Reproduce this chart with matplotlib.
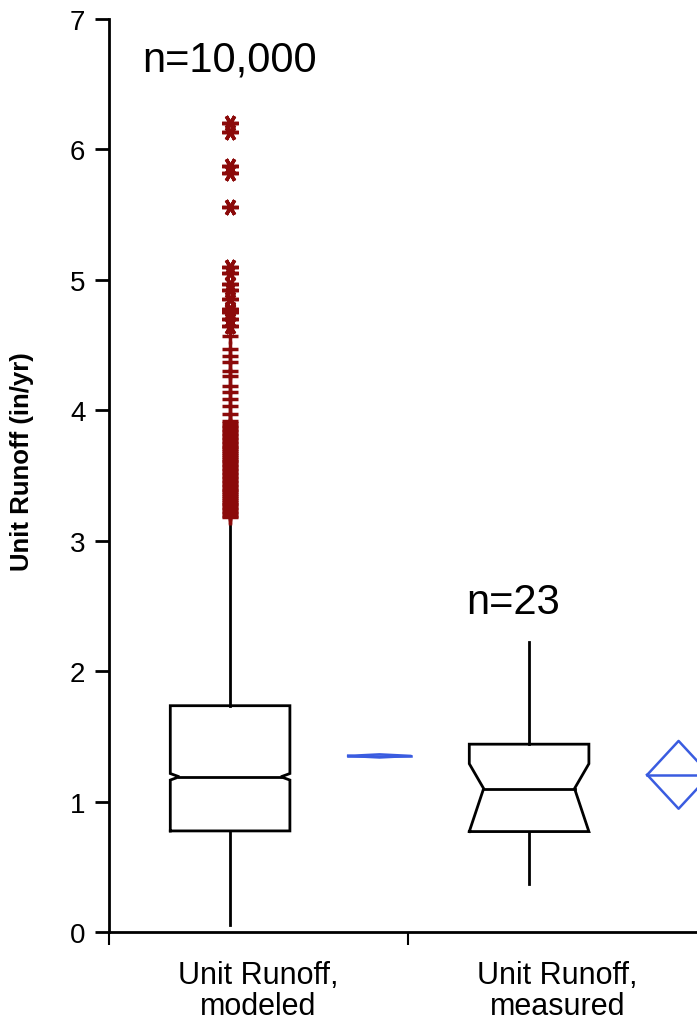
import matplotlib.pyplot as plt

plt.rcParams['font.family'] = ['Liberation Sans', 'DejaVu Sans']

# data
categories = ['Unit Runoff,\nmodeled', 'Unit Runoff,\nmeasured']
n_labels = ['n=10,000', 'n=23']
q1 = [0.775, 0.77]
q3 = [1.735, 1.44]
medians = [1.19, 1.10]
notch_lo = [1.165, 0.77]
notch_hi = [1.215, 1.29]
whisk_lo = [0.05, 0.37]
whisk_hi = [3.17, 2.22]
means = [1.35, 1.205]
mean_ci_lo = [1.338, 0.945]
mean_ci_hi = [1.362, 1.465]

# outliers of the modeled series ('+' = outside, '*' = far outside)
plus_vals = [3.18, 3.19, 3.21, 3.22, 3.24, 3.25, 3.27, 3.28, 3.30, 3.31,
             3.33, 3.34, 3.36, 3.37, 3.39, 3.40, 3.42, 3.43, 3.45, 3.46,
             3.48, 3.49, 3.51, 3.52, 3.54, 3.55, 3.57, 3.58, 3.60, 3.61,
             3.63, 3.64, 3.66, 3.67, 3.69, 3.70, 3.72, 3.73, 3.75, 3.76,
             3.78, 3.79, 3.81, 3.82, 3.84, 3.85, 3.87, 3.88, 3.90, 3.92,
             3.97, 4.03, 4.09, 4.14, 4.19, 4.26, 4.30, 4.37, 4.42, 4.47, 4.57]
star_vals = [4.65, 4.70, 4.75, 4.78, 4.85, 4.92, 4.97, 5.05, 5.10,
             5.56, 5.82, 5.87, 6.13, 6.20]

box_off = -0.095
box_w = 0.4
mean_off = 0.405
mean_w = 0.21
indent = [0.03, 0.048]
dark_red = '#8b0a0a'
blue = '#3a5ce0'

fig = plt.figure(figsize=(6.97, 10.2), dpi=100)
ax = fig.add_axes([109 / 697, 87 / 1020, 598 / 697, 913 / 1020])

for i in range(2):
    c = i + box_off
    L, R = c - box_w / 2, c + box_w / 2
    d = indent[i]
    xs = [L, L, L + d, L, L, R, R, R - d, R, R, L]
    ys = [q1[i], notch_lo[i], medians[i], notch_hi[i], q3[i], q3[i],
          notch_hi[i], medians[i], notch_lo[i], q1[i], q1[i]]
    ax.plot(xs, ys, color='black', lw=2, solid_joinstyle='miter')
    ax.plot([L + d, R - d], [medians[i], medians[i]], color='black', lw=2)
    ax.plot([c, c], [q3[i], whisk_hi[i]], color='black', lw=2)
    ax.plot([c, c], [q1[i], whisk_lo[i]], color='black', lw=2)

    # mean diamond
    m = i + mean_off
    ax.plot([m - mean_w / 2, m, m + mean_w / 2, m, m - mean_w / 2],
            [means[i], mean_ci_hi[i], means[i], mean_ci_lo[i], means[i]],
            color=blue, lw=1.8)
    ax.plot([m - mean_w / 2, m + mean_w / 2], [means[i], means[i]],
            color=blue, lw=1.8)

ax.plot([box_off] * len(plus_vals), plus_vals, linestyle='none', marker='+',
        markersize=12, mew=2.5, color=dark_red)
ax.plot([box_off] * len(star_vals), star_vals, linestyle='none',
        marker=(6, 2, 90), markersize=12, mew=2.5, color=dark_red)

ax.text(-0.39, 6.69, n_labels[0], fontsize=30, ha='left', va='center')
ax.text(0.695, 2.53, n_labels[1], fontsize=30, ha='left', va='center')

ax.set_xlim(-0.5, 1.5)
ax.set_ylim(0, 7)
ax.spines['top'].set_visible(False)
ax.spines['right'].set_visible(False)
ax.spines['left'].set_linewidth(2)
ax.spines['bottom'].set_linewidth(2)

ax.set_yticks(range(8))
ax.tick_params(axis='y', length=10, width=2, pad=7, labelsize=20)
ax.set_xticks([-0.5, 0.5, 1.5])
ax.set_xticklabels([])
ax.tick_params(axis='x', which='major', length=9, width=1.5)
ax.set_xticks([0, 1], minor=True)
ax.set_xticklabels(categories, minor=True, fontsize=22, linespacing=1.05)
ax.tick_params(axis='x', which='minor', length=0, pad=20)

ax.set_ylabel('Unit Runoff (in/yr)', fontsize=18.5, fontweight='bold')
ax.yaxis.set_label_coords(-(109 - 34) / 598, (933 - 462) / 913)

fig.savefig('out.png', dpi=100)
